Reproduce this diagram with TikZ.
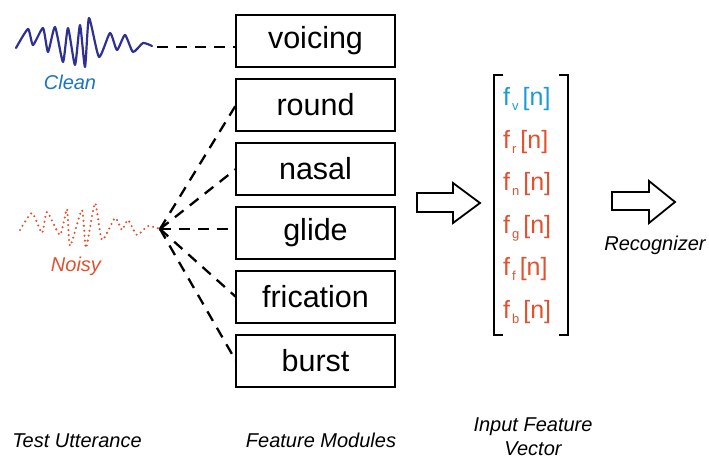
\documentclass[tikz,border=0pt]{standalone}
\usepackage{fontspec}
\setmainfont{Liberation Sans}
\usetikzlibrary{positioning}
\definecolor{cleanblue}{RGB}{46,49,146}
\definecolor{labelblue}{RGB}{28,117,188}
\definecolor{fvblue}{RGB}{27,154,214}
\definecolor{noisyred}{RGB}{226,80,46}
\newcommand{\feat}[1]{f\kern2pt\raisebox{-5pt}{\fontsize{13}{13}\selectfont #1}\kern4pt[n]}

\begin{document}
\begin{tikzpicture}[x=1pt,y=-1pt,
  module/.style={draw,line width=2pt,outer sep=0pt,minimum width=159pt,minimum height=52pt,
    font=\fontsize{30.5}{33}\selectfont},
  caption/.style={font=\fontsize{20}{24}\selectfont\itshape},
  featentry/.style={anchor=base west,inner sep=0pt,font=\fontsize{25}{28}\selectfont},
  link/.style={line width=2.3pt,dash pattern=on 11pt off 8pt},
  blockarrow/.style={draw,line width=1.8pt,line join=miter},
  node distance=12pt]
  \useasboundingbox (0,0) rectangle (709,460);

  % feature modules
  \node[module] (voicing) at (315.5,41) {voicing};
  \node[module] (round) [below=of voicing] {round};
  \node[module] (nasal) [below=of round] {nasal};
  \node[module] (glide) [below=of nasal] {glide};
  \node[module] (frication) [below=of glide] {frication};
  \node[module] (burst) [below=of frication] {burst};

  % test utterance
  \draw[cleanblue,line width=2.2pt,line join=round,line cap=round]
    plot[smooth,tension=.35] coordinates {(16,48) (28,29) (33,45) (43,28) (48,52) (55,27)
      (63,62) (68,28) (75,65) (80,25) (85,67) (89,18) (99,57) (110,33) (117,50)
      (125,35) (133,52) (143,43) (152,46)};
  \coordinate (cleanend) at (157,47);
  \draw[noisyred,line width=2.3pt,line cap=round,dash pattern=on 0pt off 5pt]
    plot[smooth,tension=.35] coordinates {(20,230) (32,213) (42,233) (47,212) (60,235)
      (67,209) (70,246) (82,210) (86,248) (95,203) (102,240) (115,218) (122,230)
      (128,220) (137,235) (148,226) (160,229)};
  \coordinate (hub) at (160,229);
  \node[caption,text=labelblue] (clean) at (70,82) {Clean};
  \node[caption,text=noisyred] (noisy) at (76,266) {Noisy};

  \draw[link] (cleanend) -- (voicing.west |- cleanend);
  \path[link]
    (hub) edge (round.west)
          edge (nasal.west)
          edge (glide.west |- hub)
          edge (frication.west)
          edge (burst.west);

  % input feature vector
  \draw[blockarrow] (417,193) -- (453,193) -- (453,183) -- (480,203) -- (453,223)
    -- (453,212) -- (417,212) -- cycle;
  \node[featentry,text=fvblue] (fv) at (503,105) {\feat{v}};
  \node[featentry,text=noisyred] (fr) at (503,148) {\feat{r}};
  \node[featentry,text=noisyred] (fn) at (503,190) {\feat{n}};
  \node[featentry,text=noisyred] (fg) at (503,233) {\feat{g}};
  \node[featentry,text=noisyred] (ff) at (503,275) {\feat{f}};
  \node[featentry,text=noisyred] (fb) at (503,318) {\feat{b}};
  \draw[line width=2.2pt] (503,75) -| (494,335) -- (503,335);
  \draw[line width=2.2pt] (559,75) -| (568,335) -- (559,335);

  % recognizer
  \draw[blockarrow] (612,192) -- (649,192) -- (649,181) -- (675,202) -- (649,223)
    -- (649,210) -- (612,210) -- cycle;
  \node[caption] (recog) at (655,245) {Recognizer};

  % captions
  \node[caption] (test) at (77,441) {Test Utterance};
  \node[caption] (modules) at (321,440) {Feature Modules};
  \node[caption,align=center] (input) at (533,437) {Input Feature\\Vector};
\end{tikzpicture}
\end{document}
